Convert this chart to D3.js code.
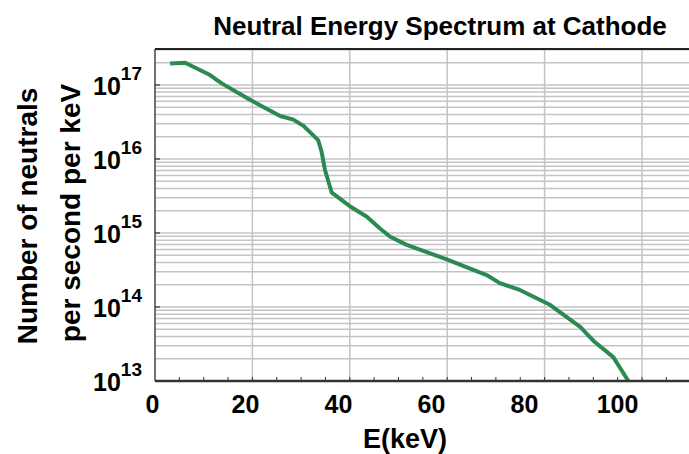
<!DOCTYPE html>
<html>
<head>
<meta charset="utf-8">
<title>Neutral Energy Spectrum at Cathode</title>
<style>
  body { margin: 0; background: #fff; }
  svg { display: block; }
  text { font-family: "Liberation Sans", Arial, sans-serif; font-weight: bold; fill: #000; }
</style>
</head>
<body>
<div id="chart"></div>
<script src="https://cdn.jsdelivr.net/npm/d3@7"></script>
<script>
// curve (keV, neutrals / s / keV)
const energy = [3.1, 6.2, 11.3, 13.7, 19.5, 25.7, 28.4, 30.5, 33.5, 34.2, 34.9, 36.3, 40.0, 43.5,
                46.2, 48.3, 51.7, 59.9, 68.1, 70.8, 74.9, 81.1, 87.3, 90.0, 94.1, 97.2];
const neutrals = [1.95e17, 2.0e17, 1.36e17, 1.05e17, 6.3e16, 3.8e16, 3.4e16, 2.8e16, 1.8e16, 1.26e16,
                  7.1e15, 3.5e15, 2.3e15, 1.66e15, 1.15e15, 8.9e14, 6.9e14, 4.4e14, 2.7e14, 2.1e14,
                  1.7e14, 1.07e14, 5.4e13, 3.5e13, 2.1e13, 1.0e13];
const xTicks = [0, 20, 40, 60, 80, 100];
const yExponents = [13, 14, 15, 16, 17];

const W = 689, H = 454;
const plotLeft = 155, plotRight = 690, plotTop = 49, plotBottom = 381;

const x = d3.scaleLinear().domain([0, 110]).range([plotLeft, plotLeft + 110 * 4.87]);
// the labels in the original sit a bit left of their ticks, drifting with the value
const xLabel = d3.scaleLinear().domain([0, 100]).range([152.5, 617.5]);
const y = d3.scaleLog().domain([1e13, 3.06e17]).range([plotBottom, plotTop]);

const svg = d3.select('#chart').append('svg')
  .attr('width', W).attr('height', H);

// horizontal grid, every minor value of each decade
const minor = [];
for (let e = 13; e <= 17; e++) {
  for (let m = 1; m <= 9; m++) {
    const v = m * Math.pow(10, e);
    if (v <= 3.06e17) minor.push(v);
  }
}
svg.append('g').selectAll('line').data(minor).join('line')
  .attr('x1', plotLeft).attr('x2', plotRight)
  .attr('y1', d => y(d)).attr('y2', d => y(d))
  .attr('stroke', '#c4c4c4').attr('stroke-width', 1.5);

// vertical grid
svg.append('g').selectAll('line').data(xTicks.slice(1)).join('line')
  .attr('x1', d => x(d)).attr('x2', d => x(d))
  .attr('y1', plotTop).attr('y2', plotBottom)
  .attr('stroke', '#c4c4c4').attr('stroke-width', 1.5);

// frame: top, left
svg.append('line').attr('x1', plotLeft).attr('x2', plotRight).attr('y1', plotTop).attr('y2', plotTop)
  .attr('stroke', '#222').attr('stroke-width', 2);
svg.append('line').attr('x1', plotLeft).attr('x2', plotLeft).attr('y1', plotTop).attr('y2', plotBottom)
  .attr('stroke', '#444').attr('stroke-width', 1.5);

// x axis minor ticks pointing inward
const xMinor = d3.range(5, 110, 5);
svg.append('g').selectAll('line').data(xMinor).join('line')
  .attr('x1', d => x(d)).attr('x2', d => x(d))
  .attr('y1', plotBottom).attr('y2', plotBottom - 4)
  .attr('stroke', '#333').attr('stroke-width', 1);

// y axis major ticks pointing inward
svg.append('g').selectAll('line').data(yExponents).join('line')
  .attr('x1', plotLeft).attr('x2', plotLeft + 5)
  .attr('y1', d => y(Math.pow(10, d))).attr('y2', d => y(Math.pow(10, d)))
  .attr('stroke', '#333').attr('stroke-width', 1.2);

// curve
const line = d3.line()
  .x((d, i) => x(energy[i]))
  .y(d => y(d));
svg.append('defs').append('clipPath').attr('id', 'plot')
  .append('rect').attr('x', plotLeft).attr('y', plotTop)
  .attr('width', plotRight - plotLeft).attr('height', plotBottom - plotTop);
svg.append('path').datum(neutrals)
  .attr('clip-path', 'url(#plot)')
  .attr('d', line)
  .attr('fill', 'none')
  .attr('stroke', '#2a8a52')
  .attr('stroke-width', 4)
  .attr('stroke-linejoin', 'round');

svg.append('line').attr('x1', plotLeft).attr('x2', plotRight).attr('y1', plotBottom).attr('y2', plotBottom)
  .attr('stroke', '#333').attr('stroke-width', 2.5);

// x tick labels
svg.append('g').selectAll('text').data(xTicks).join('text')
  .attr('x', d => xLabel(d)).attr('y', 413)
  .attr('text-anchor', 'middle')
  .style('font-size', '25px')
  .text(d => d);

// y tick labels 10^n
const yl = svg.append('g').selectAll('text').data(yExponents).join('text')
  .attr('x', 142).attr('y', d => y(Math.pow(10, d)) + 10)
  .attr('text-anchor', 'end')
  .style('font-size', '25px');
yl.append('tspan').text('10');
yl.append('tspan').attr('dy', -15).style('font-size', '19px').text(d => d);

// titles
svg.append('text').attr('x', 440).attr('y', 35)
  .attr('text-anchor', 'middle')
  .style('font-size', '26px')
  .text('Neutral Energy Spectrum at Cathode');

svg.append('text').attr('x', 405).attr('y', 448)
  .attr('text-anchor', 'middle')
  .style('font-size', '27px')
  .text('E(keV)');

svg.append('text')
  .attr('transform', 'translate(37,216) rotate(-90)')
  .attr('text-anchor', 'middle')
  .style('font-size', '28px')
  .text('Number of neutrals');
svg.append('text')
  .attr('transform', 'translate(80,213) rotate(-90)')
  .attr('text-anchor', 'middle')
  .style('font-size', '28px')
  .text('per second per keV');
</script>
</body>
</html>
